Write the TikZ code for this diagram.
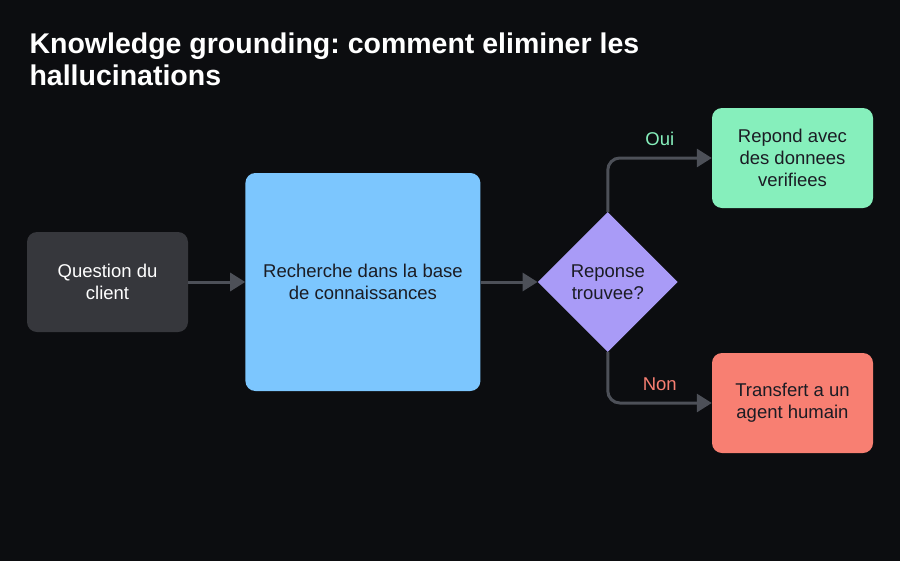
\documentclass[tikz,border=0pt]{standalone}
\usepackage{fontspec}
\setmainfont{Liberation Sans}
\usetikzlibrary{arrows.meta,positioning,shapes.geometric}
\definecolor{bgdark}{HTML}{0C0D10}
\definecolor{boxgrey}{HTML}{36373C}
\definecolor{kbblue}{HTML}{7CC6FE}
\definecolor{askpurple}{HTML}{A99BF7}
\definecolor{okgreen}{HTML}{86EFBC}
\definecolor{nored}{HTML}{F87F72}
\definecolor{inkdark}{HTML}{1B1C24}
\definecolor{linkgrey}{HTML}{4D5058}
\newcommand{\bodyfont}{\fontsize{18.5}{22}\selectfont}
\frenchspacing

\begin{document}
\begin{tikzpicture}[x=1pt, y=-1pt,
  box/.style={rounded corners=10pt, align=center, inner sep=0pt, font=\bodyfont},
  link/.style={draw=linkgrey, line width=3pt, rounded corners=12pt,
    arrows={-Triangle[length=15pt, width=18pt]}}]
  \useasboundingbox (0,0) rectangle (900,560);
  \fill[bgdark] (-5,-5) rectangle (905,565);
  \node[anchor=base west, text=white, align=left, font=\fontsize{28.5}{32}\selectfont\bfseries]
    (title) at (26,85) {Knowledge grounding: comment eliminer les\\hallucinations};
  \node (qc) [box, fill=boxgrey, text=white, minimum width=161pt, minimum height=100pt]
    at (107.5,282) {Question du\\client};
  \node (kb) [box, fill=kbblue, text=inkdark, minimum width=235pt, minimum height=218pt,
    right=57pt of qc] {Recherche dans la base\\de connaissances};
  \node (rt) [diamond, aspect=1, fill=askpurple, text=inkdark, align=center, inner sep=0pt,
    minimum width=140pt, minimum height=140pt, font=\bodyfont, right=57pt of kb]
    {Reponse\\trouvee?};
  \node (ok) [box, fill=okgreen, text=inkdark, minimum width=161pt, minimum height=100pt]
    at (792.5,158) {Repond avec\\des donnees\\verifiees};
  \node (no) [box, fill=nored, text=inkdark, minimum width=161pt, minimum height=100pt]
    at (792.5,403) {Transfert a un\\agent humain};
  \draw[link] (qc) -- (kb);
  \draw[link] (kb) -- (rt);
  \draw[link] (rt.north) |- node[pos=0.75, above=7pt, text=okgreen, font=\bodyfont] {Oui} (ok);
  \draw[link] (rt.south) |- node[pos=0.75, above=7pt, text=nored, font=\bodyfont] {Non} (no);
\end{tikzpicture}
\end{document}
